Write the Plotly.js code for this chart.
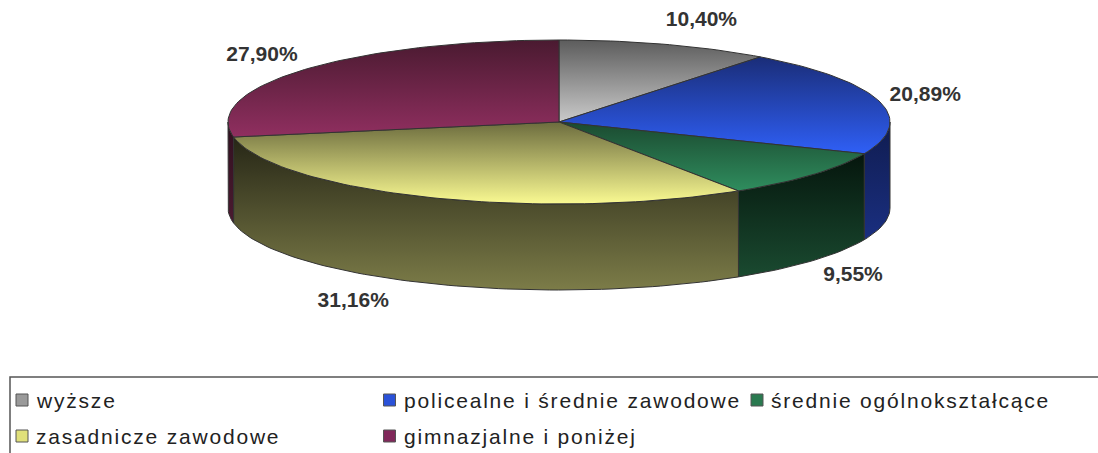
<!DOCTYPE html>
<html><head><meta charset="utf-8">
<script src="https://cdn.plot.ly/plotly-3.0.1.min.js"></script>
<style>html,body{margin:0;padding:0;background:#fff}#chart{width:1098px;height:453px}
text.annotation-text{letter-spacing:1.8px}</style>
</head><body><div id="chart"></div>
<script>
// ---- data ----
const categories = ["wyższe", "policealne i średnie zawodowe", "średnie ogólnokształcące", "zasadnicze zawodowe", "gimnazjalne i poniżej"];
const values = [10.40, 20.89, 9.55, 31.16, 27.90];
const labels = ["10,40%", "20,89%", "9,55%", "31,16%", "27,90%"];

// ---- styles ----
const topColors = [["#5c5c5c", "#cacaca"], ["#1a2d78", "#2f5ff6"], ["#1b4a30", "#2f8d5e"], ["#6c6c3e", "#fafa92"], ["#4a1a30", "#902f60"]];
const sideColors = [["#404040", "#808080"], ["#101c50", "#1a2f80"], ["#05160d", "#1a4a30"], ["#262616", "#7c7c48"], ["#30101f", "#4a1a30"]];
const legendColors = ["#9a9a9a", "#2a52d8", "#2a7a50", "#e0e07a", "#80285a"];
const labelNudge = [[20, -3], [-2, 0], [2, 1], [-55, -1.5], [-4, 0]];

const cx = 559, cy = 122, rx = 331, ry = 82, depth = 86;
const total = values.reduce((a, b) => a + b, 0);
const pt = (deg, dy) => { const r = deg * Math.PI / 180; return [cx + rx * Math.sin(r), cy - ry * Math.cos(r) + (dy || 0)]; };
function arc(a0, a1, dy) { const n = Math.max(4, Math.ceil(Math.abs(a1 - a0) / 1.5)); const out = []; for (let k = 0; k <= n; k++) out.push(pt(a0 + (a1 - a0) * k / n, dy)); return out; }

const traces = [], tops = [], annotations = [], shapes = [];
const labX = [], labY = [];
let acc = 0;
values.forEach((v, i) => {
  const a0 = acc / total * 360; acc += v; const a1 = acc / total * 360;
  // side (front half 90..270)
  const s = Math.max(a0, 90), e = Math.min(a1, 270);
  if (e > s) {
    const poly = arc(s, e, 0).concat(arc(e, s, depth));
    poly.push(poly[0]);
    const ys = poly.map(p => p[1]);
    traces.push({ type: "scatter", mode: "lines", x: poly.map(p => p[0]), y: ys, fill: "toself",
      fillgradient: { type: "vertical", colorscale: [[0, sideColors[i][0]], [1, sideColors[i][1]]], start: Math.min(...ys), stop: Math.max(...ys) },
      line: { color: "#333", width: 1 }, hoverinfo: "skip", showlegend: false });
  }
  // top face
  const poly = [[cx, cy]].concat(arc(a0, a1, 0)); poly.push([cx, cy]);
  const ys = poly.map(p => p[1]);
  tops.push({ type: "scatter", mode: "lines", x: poly.map(p => p[0]), y: ys, fill: "toself",
    fillgradient: { type: "vertical", colorscale: [[0, topColors[i][0]], [1, topColors[i][1]]], start: Math.min(...ys), stop: Math.max(...ys) },
    line: { color: "#333", width: 1 }, hoverinfo: "skip", showlegend: false });
  // label position
  const mid = (a0 + a1) / 2, r = mid * Math.PI / 180;
  const front = Math.cos(r) < 0;
  const base = pt(mid, front ? depth : 0);
  labX.push(base[0] + 50 * Math.sin(r) + labelNudge[i][0]);
  labY.push(base[1] - 22 * Math.cos(r) + labelNudge[i][1]);
});
const labelTrace = { type: "scatter", mode: "text", x: labX, y: labY, text: labels, textposition: "middle center",
  textfont: { family: "Liberation Sans, Arial, sans-serif", size: 21, color: "#333", weight: "bold" }, hoverinfo: "skip", showlegend: false };

// legend (manual grid)
const colW = 367.5, lx0 = 22, ly0 = 400, rowH = 36;
categories.forEach((c, i) => {
  const col = i % 3, row = Math.floor(i / 3);
  const x = lx0 + col * colW, y = ly0 + row * rowH;
  shapes.push({ type: "rect", xref: "x", yref: "y", x0: x - 6, x1: x + 6, y0: y - 6, y1: y + 6, fillcolor: legendColors[i], line: { color: "#555", width: 1 } });
  annotations.push({ x: x + 12, y: y, xref: "x", yref: "y", xanchor: "left", text: c, showarrow: false,
    font: { family: "Liberation Sans, Arial, sans-serif", size: 21, color: "#222" } });
});
shapes.push({ type: "rect", xref: "x", yref: "y", x0: 10, x1: 1110, y0: 377, y1: 470, line: { color: "#555", width: 1.5 }, fillcolor: "rgba(0,0,0,0)", layer: "below" });

Plotly.newPlot("chart", traces.concat(tops, [labelTrace]), {
  width: 1098, height: 453, margin: { l: 0, r: 0, t: 0, b: 0 },
  paper_bgcolor: "#fff", plot_bgcolor: "#fff", showlegend: false,
  xaxis: { range: [0, 1098], visible: false, fixedrange: true },
  yaxis: { range: [453, 0], visible: false, fixedrange: true },
  annotations, shapes
}, { staticPlot: true });
</script></body></html>
